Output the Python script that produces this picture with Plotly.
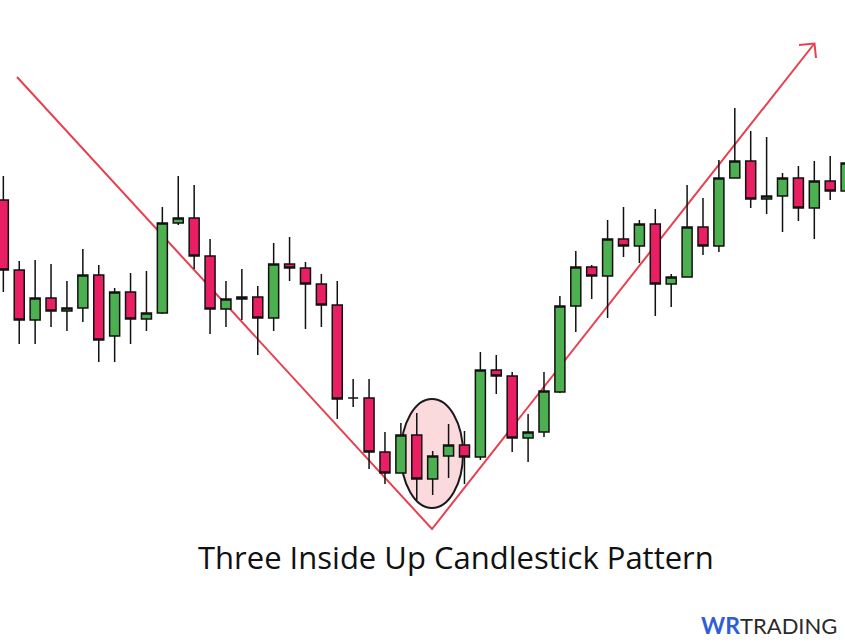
import plotly.graph_objects as go

# candle index (periods)
periods = list(range(54))

open_ = [40.0, 33.0, 28.0, 30.2, 28.9, 29.2, 32.5, 26.4, 30.8, 28.1,
         28.7, 37.7, 38.2, 34.4, 29.1, 30.1, 30.3, 28.2, 33.6, 33.2,
         31.6, 29.5, 20.2, 20.2, 14.8, 12.7, 16.5, 12.1, 14.4, 15.5,
         14.3, 23.0, 22.4, 16.2, 16.8, 20.8, 29.4, 33.3, 32.4, 36.1,
         35.4, 37.6, 31.6, 32.3, 37.3, 35.4, 42.2, 43.9, 40.1, 40.4,
         42.2, 39.2, 41.9, 40.9]
high = [42.4, 33.9, 34.0, 33.6, 31.9, 35.1, 33.5, 31.2, 32.7, 32.9,
        39.3, 42.4, 41.5, 36.1, 31.9, 33.1, 31.4, 35.7, 36.3, 33.8,
        32.6, 31.9, 22.1, 22.1, 16.8, 17.7, 18.7, 14.9, 17.6, 16.9,
        24.8, 24.5, 22.8, 18.6, 22.8, 30.4, 34.9, 33.5, 38.0, 39.3,
        38.0, 39.1, 32.6, 41.5, 40.2, 44.0, 49.2, 46.9, 46.3, 42.7,
        43.4, 43.9, 44.4, 44.3]
low = [30.8, 25.6, 25.6, 27.3, 26.9, 27.8, 23.8, 23.8, 25.6, 26.9,
       28.6, 37.5, 33.1, 26.6, 27.3, 28.0, 24.5, 26.9, 31.9, 27.1,
       27.3, 18.1, 19.3, 13.1, 11.6, 12.7, 10.0, 10.5, 12.2, 11.6,
       14.0, 20.6, 14.8, 13.8, 16.3, 20.7, 26.8, 30.1, 28.2, 34.3,
       33.7, 28.4, 29.3, 32.3, 34.5, 34.8, 42.2, 39.2, 38.6, 36.8,
       37.9, 36.1, 40.0, 40.5]
close = [33.0, 28.0, 30.2, 28.9, 29.2, 32.5, 26.0, 30.8, 28.1, 28.7,
         37.7, 38.2, 34.4, 29.1, 30.1, 30.3, 28.2, 33.6, 33.2, 31.6,
         29.5, 20.1, 20.2, 14.8, 12.7, 16.5, 12.1, 14.4, 15.5, 14.3,
         23.0, 22.4, 16.2, 16.8, 20.9, 29.4, 33.3, 32.4, 36.1, 35.4,
         37.6, 31.6, 32.3, 37.3, 35.4, 42.2, 43.9, 40.1, 40.4, 42.2,
         39.2, 41.9, 40.9, 43.7]

title_text = "Three Inside Up Candlestick Pattern"

W, H = 845, 642


def px(x):
    return x / W


def py(y):
    return 1 - y / H


fig = go.Figure()
fig.add_trace(go.Candlestick(
    x=periods, open=open_, high=high, low=low, close=close,
    increasing=dict(fillcolor="#4CAF50", line=dict(color="#111111", width=1.5)),
    decreasing=dict(fillcolor="#E91E63", line=dict(color="#111111", width=1.5)),
    whiskerwidth=0, hoverinfo="skip", showlegend=False,
))

shapes = [
    # highlight ellipse
    dict(type="circle", xref="paper", yref="paper", layer="below",
         x0=px(401), x1=px(463), y0=py(508), y1=py(399),
         fillcolor="#FADADD", line=dict(color="#1a1a1a", width=2)),
    # V trend lines
    dict(type="path", xref="paper", yref="paper", layer="below",
         path=f"M {px(17)} {py(77)} L {px(432)} {py(529)} L {px(814)} {py(44)}",
         line=dict(color="#E8404F", width=2)),
    # arrow head
    dict(type="path", xref="paper", yref="paper", layer="below",
         path=f"M {px(799)} {py(45)} L {px(814.5)} {py(43.5)} L {px(816)} {py(58)}",
         line=dict(color="#E8404F", width=2)),
]

annotations = [
    dict(text=title_text, xref="paper", yref="paper", x=px(456), y=py(557),
         xanchor="center", yanchor="middle", showarrow=False,
         font=dict(family="Open Sans", size=31, color="#111111")),
    dict(text="<b><span style='color:#2F5FD6;font-size:23px'>WR</span></b>TRADING",
         xref="paper", yref="paper", x=px(839), y=py(625),
         xanchor="right", yanchor="middle", showarrow=False,
         font=dict(family="Lato", size=22, color="#2a2a2a")),
]

fig.update_layout(
    width=W, height=H,
    margin=dict(l=0, r=0, t=0, b=0),
    paper_bgcolor="white", plot_bgcolor="white",
    boxgap=0.37, boxgroupgap=0,
    xaxis=dict(range=[-0.21, 52.93], visible=False, rangeslider=dict(visible=False),
               fixedrange=True),
    yaxis=dict(range=[-4.2, 60.0], visible=False, fixedrange=True),
    shapes=shapes, annotations=annotations,
    showlegend=False,
)

fig.write_html(
    "out.html",
    config={"displayModeBar": False},
    post_script="document.body.style.margin='0';document.body.style.padding='0';"
                "document.body.style.overflow='hidden';",
)
